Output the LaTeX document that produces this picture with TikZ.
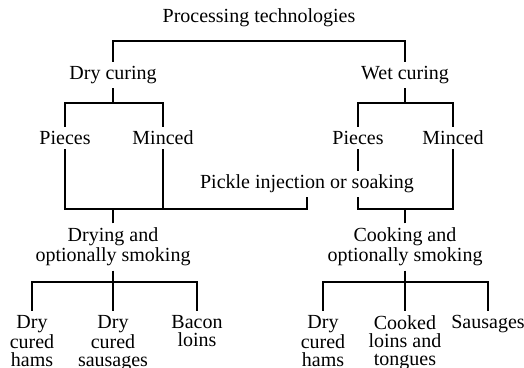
\documentclass[tikz,border=0pt]{standalone}
\usepackage{fontspec}
\setmainfont{Liberation Serif}
\usepackage{tikz}

\begin{document}
\begin{tikzpicture}[
    x=0.5pt, y=-0.5pt,
    every node/.style={align=center, inner sep=2pt, font=\fontsize{10}{9}\selectfont},
    leaf/.style={anchor=north},
    link/.style={line width=1pt}
]
\useasboundingbox (0,0) rectangle (524,368);

% levels of the horizontal bars
\coordinate (bar1) at (0,41);
\coordinate (bar2) at (0,103);
\coordinate (bar3) at (0,209);
\coordinate (bar4) at (0,282);

\node (root) at (259,18) {Processing technologies};
\node (dry) at (113,75) {Dry curing};
\node (wet) at (405,75) {Wet curing};
\node (dp) at (65,138) {Pieces};
\node (dm) at (163,138) {Minced};
\node (wp) at (358,138) {Pieces};
\node (wm) at (453,138) {Minced};
\node (pickle) at (307,184) {Pickle injection or soaking};
\node (drying) at (113,247) {Drying and\\optionally smoking};
\node (cooking) at (405,247) {Cooking and\\optionally smoking};
\node (l1) [leaf] at (32,311) {Dry\\cured\\hams};
\node (l2) [leaf] at (113,311) {Dry\\cured\\sausages};
\node (l3) [leaf] at (197,311) {Bacon\\loins};
\node (r1) [leaf] at (323,311) {Dry\\cured\\hams};
\node (r2) [leaf] at (405,311) {Cooked\\loins and\\tongues};
\node (r3) [leaf] at (488,311) {Sausages};

\draw[link] (dry) -- (dry |- bar1) -| (wet);

\draw[link] (dry) -- (dry |- bar2);
\draw[link] (dp) |- (dry |- bar2) -| (dm);
\draw[link] (wet) -- (wet |- bar2);
\draw[link] (wp) |- (wet |- bar2) -| (wm);

\draw[link] (dp) |- (pickle |- bar3) -- (pickle);
\draw[link] (dm) -- (dm |- bar3);
\draw[link] (drying) -- (drying |- bar3);
\draw[link] (wp) -- (wp |- pickle.north);
\draw[link] (wp |- pickle.south) |- (wm |- bar3) -- (wm);
\draw[link] (cooking) -- (cooking |- bar3);

\draw[link] (drying) -- (l2);
\draw[link] (l1) |- (l2 |- bar4) -| (l3);
\draw[link] (cooking) -- (r2);
\draw[link] (r1) |- (r2 |- bar4) -| (r3);
\end{tikzpicture}
\end{document}
